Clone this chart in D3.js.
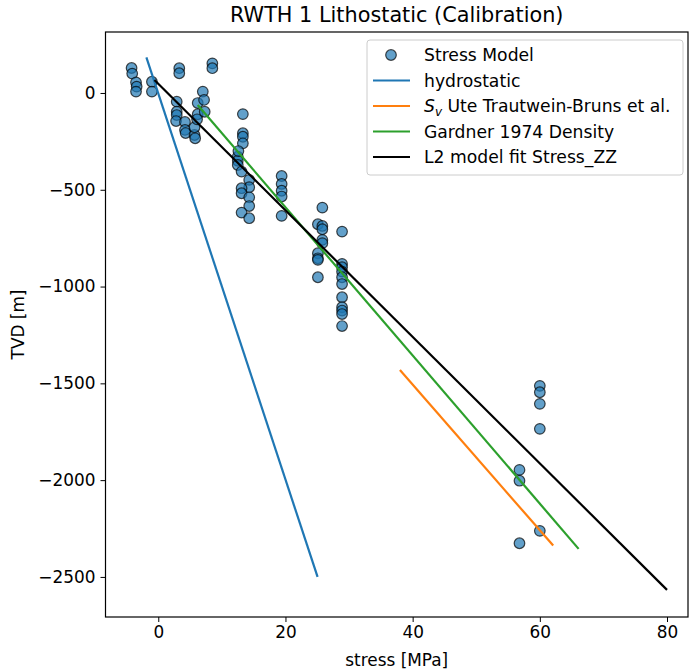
<!DOCTYPE html>
<html lang="en">
<head>
  <meta charset="utf-8">
  <title>RWTH 1 Lithostatic (Calibration)</title>
  <script type="text/javascript" src="https://d3js.org/d3.v7.min.js"></script>
  <style type="text/css">
    body { margin: 0; background: #fff; }
    text { font-family: "DejaVu Sans", sans-serif; fill: #000; }
  </style>
</head>
<body>
  <script type="text/javascript">
    // scatter: stress model points
    var stressPts = [-4.2, -4.1, -3.5, -3.4, -3.5, -1.0, -1.0, 3.3, 3.3, 8.5, 8.5,
      2.9, 2.9, 2.9, 2.8, 4.2, 4.2, 4.3, 5.7, 5.8, 5.7, 6.2, 6.2, 6.1, 7.0, 7.2, 7.3,
      13.3, 13.3, 13.3, 13.3, 12.5, 12.5, 12.5, 12.6, 13.1, 14.3, 14.3, 13.1, 13.1, 14.3, 14.3, 13.1, 14.3,
      19.4, 19.4, 19.4, 19.4, 19.4,
      25.8, 25.1, 25.8, 25.8, 25.8, 25.8, 25.1, 25.1, 25.1, 25.1,
      28.9, 28.9, 28.9, 28.9, 28.9, 28.9, 28.9, 28.9, 28.9, 28.9, 28.9,
      60.0, 60.0, 60.0, 60.0, 56.8, 56.8, 60.0, 56.8];
    var tvdPts = [129, 100, 55, 33, 7, 58, 7, 128, 102, 153, 128,
      -45, -97, -114, -145, -150, -191, -207, -217, -234, -177, -52, -110, -136, 7, -36, -97,
      -109, -208, -226, -260, -329, -350, -372, -300, -406, -449, -487, -492, -518, -539, -584, -618, -647,
      -429, -470, -505, -535, -635,
      -592, -678, -687, -704, -759, -776, -828, -854, -862, -952,
      -716, -883, -900, -923, -952, -987, -1055, -1107, -1124, -1142, -1204,
      -1513, -1546, -1606, -1735, -1947, -2003, -2262, -2326];

    // lines
    var hydroStress = [-1.87, 25.05];
    var hydroTvd = [184, -2500];
    var svStress = [38.0, 62.1];
    var svTvd = [-1431, -2338];
    var gardnerStress = [6.2, 66.1];
    var gardnerTvd = [-62, -2355];
    var fitStress = [-0.6, 80.0];
    var fitTvd = [67, -2567];

    var xTicks = [0, 20, 40, 60, 80];
    var yTicks = [0, -500, -1000, -1500, -2000, -2500];

    var width = 689, height = 672;
    var mLeft = 105.5, mRight = 688, mTop = 32, mBottom = 617;

    var x = d3.scaleLinear().domain([-8.3, 83.3]).range([mLeft, mRight]);
    var y = d3.scaleLinear().domain([-2707, 315]).range([mBottom, mTop]);

    var svg = d3.select("body")
      .append("svg")
      .attr("width", width)
      .attr("height", height);

    var pts = stressPts.map(function(s, i) { return [s, tvdPts[i]]; });

    svg.append("g")
      .selectAll("circle")
      .data(pts)
      .enter()
      .append("circle")
      .attr("cx", function(d) { return x(d[0]); })
      .attr("cy", function(d) { return y(d[1]); })
      .attr("r", 5.3)
      .style("fill", "rgba(31,119,180,0.7)")
      .style("stroke", "rgba(0,0,0,0.7)")
      .style("stroke-width", 1.2);

    var line = d3.line()
      .x(function(d) { return x(d[0]); })
      .y(function(d) { return y(d[1]); });

    var series = [
      { name: "hydrostatic", s: hydroStress, t: hydroTvd, color: "#1f77b4" },
      { name: "sv", s: svStress, t: svTvd, color: "#ff7f0e" },
      { name: "Gardner 1974 Density", s: gardnerStress, t: gardnerTvd, color: "#2ca02c" },
      { name: "L2 model fit Stress_ZZ", s: fitStress, t: fitTvd, color: "#000000" }
    ];

    series.forEach(function(sr) {
      svg.append("path")
        .datum(sr.s.map(function(v, i) { return [v, sr.t[i]]; }))
        .attr("d", line)
        .style("fill", "none")
        .style("stroke", sr.color)
        .style("stroke-width", 2.2);
    });

    // axes
    var xAxis = svg.append("g")
      .attr("transform", "translate(0," + mBottom + ")")
      .call(d3.axisBottom(x).tickValues(xTicks).tickSize(5).tickPadding(4).tickFormat(d3.format("d")));
    var yAxis = svg.append("g")
      .attr("transform", "translate(" + mLeft + ",0)")
      .call(d3.axisLeft(y).tickValues(yTicks).tickSize(5).tickPadding(5)
        .tickFormat(function(d) { return d < 0 ? "\u2212" + Math.abs(d) : d; }));
    [xAxis, yAxis].forEach(function(a) {
      a.select(".domain").remove();
      a.selectAll("line").style("stroke", "#000").style("stroke-width", 1);
      a.selectAll("text").style("font-size", "16.9px").style("font-family", "DejaVu Sans");
    });

    // spines
    svg.append("rect")
      .attr("x", mLeft).attr("y", mTop)
      .attr("width", mRight - mLeft).attr("height", mBottom - mTop)
      .style("fill", "none").style("stroke", "#000").style("stroke-width", 1.2);

    svg.append("text")
      .attr("x", (mLeft + mRight) / 2).attr("y", 22)
      .attr("text-anchor", "middle")
      .style("font-size", "20.8px")
      .text("RWTH 1 Lithostatic (Calibration)");

    svg.append("text")
      .attr("x", (mLeft + mRight) / 2).attr("y", 666)
      .attr("text-anchor", "middle")
      .style("font-size", "16.9px")
      .text("stress [MPa]");

    svg.append("text")
      .attr("transform", "translate(24," + ((mTop + mBottom) / 2) + ") rotate(-90)")
      .attr("text-anchor", "middle")
      .style("font-size", "16.9px")
      .text("TVD [m]");

    // legend
    var lg = svg.append("g");
    lg.append("rect")
      .attr("x", 367).attr("y", 40).attr("width", 316).attr("height", 135)
      .attr("rx", 3)
      .style("fill", "rgba(255,255,255,0.8)")
      .style("stroke", "#ccc");

    var rowY = [55, 80.5, 106, 131.5, 157];
    lg.append("circle")
      .attr("cx", 391).attr("cy", rowY[0]).attr("r", 5.3)
      .style("fill", "rgba(31,119,180,0.7)")
      .style("stroke", "rgba(0,0,0,0.7)")
      .style("stroke-width", 1.2);
    series.forEach(function(sr, i) {
      lg.append("line")
        .attr("x1", 373).attr("x2", 410)
        .attr("y1", rowY[i + 1]).attr("y2", rowY[i + 1])
        .style("stroke", sr.color).style("stroke-width", 2.2);
    });
    var labels = ["Stress Model", "hydrostatic", null, "Gardner 1974 Density", "L2 model fit Stress_ZZ"];
    labels.forEach(function(l, i) {
      var t = lg.append("text")
        .attr("x", 424).attr("y", rowY[i])
        .attr("dy", "0.35em")
        .style("font-size", "17.2px");
      if (l) {
        t.text(l);
      } else {
        t.append("tspan").style("font-style", "italic").text("S");
        t.append("tspan").attr("dy", 4).style("font-size", "12px").style("font-style", "italic").text("v");
        t.append("tspan").attr("dy", -4).text(" Ute Trautwein-Bruns et al.");
      }
    });
  </script>
</body>
</html>
